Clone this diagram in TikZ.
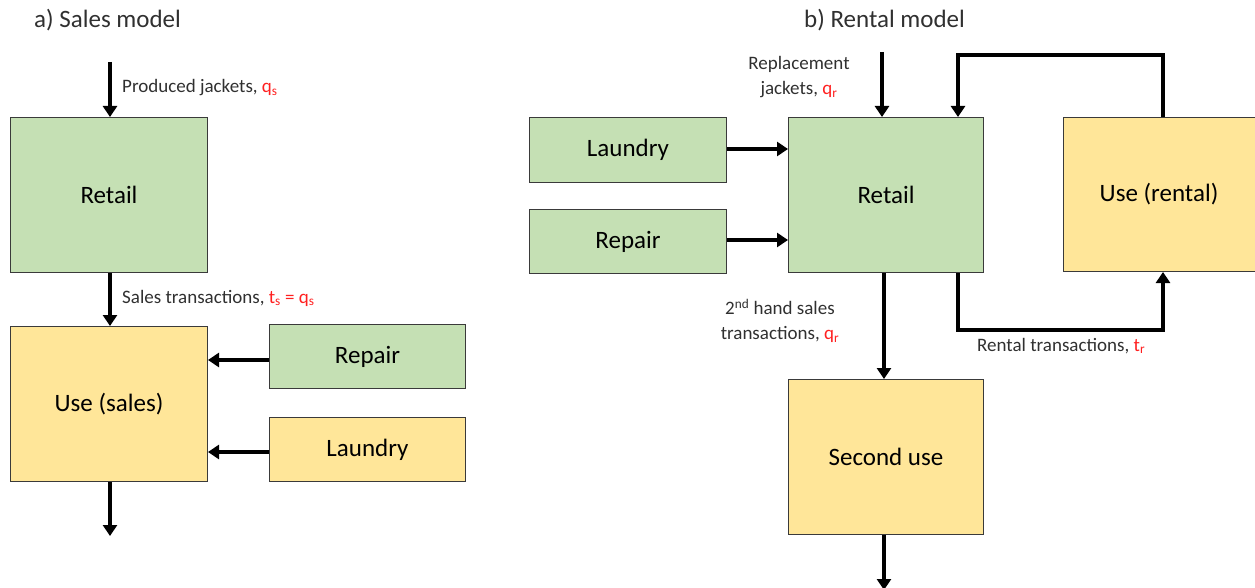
\documentclass[tikz,border=0pt]{standalone}
\usepackage{fontspec}
\setmainfont{Carlito}
\usetikzlibrary{arrows.meta}
\definecolor{boxgreen}{HTML}{C5E0B4}
\definecolor{boxyellow}{HTML}{FFE699}
\definecolor{boxline}{HTML}{3A3A3A}
\definecolor{qred}{HTML}{FF2020}
\definecolor{txt}{HTML}{303030}
\tikzset{
  box/.style={draw=boxline, line width=1pt, anchor=north west, inner sep=0pt,
    font=\fontsize{25}{29}\selectfont, text=black},
  gbox/.style={box, fill=boxgreen},
  ybox/.style={box, fill=boxyellow},
  flow/.style={line width=3.5pt, -{Triangle[length=11pt,width=14pt]}},
  lbl/.style={font=\fontsize{19}{25}\selectfont, text=txt, inner sep=0pt},
  ttl/.style={font=\fontsize{25}{29}\selectfont, text=txt, inner sep=0pt, anchor=west},
}
\newcommand{\rv}[1]{\textcolor{qred}{#1}}
\begin{document}
\begin{tikzpicture}[x=1pt,y=-1pt]
\useasboundingbox (0,0) rectangle (1255,588);

% ---- a) Sales model ----
\node[ttl] (ta) at (34,20) {a) Sales model};
\node[gbox, minimum width=197pt, minimum height=155pt] (retA) at (10,117) {Retail};
\node[ybox, minimum width=197pt, minimum height=155pt] (useA) at (10,326) {Use (sales)};
\node[gbox, minimum width=196pt, minimum height=64pt] (repA) at (269,324) {Repair};
\node[ybox, minimum width=196pt, minimum height=64pt] (lauA) at (269,417) {Laundry};
\coordinate (inA) at (110,62);
\coordinate (outA) at (110,536);
\draw[flow] (inA) -- (inA |- retA.north);
\draw[flow] (retA.south -| inA) -- (useA.north -| inA);
\draw[flow] (useA.south -| outA) -- (outA);
\draw[flow] (repA.west |- 0,360) -- (useA.east |- 0,360);
\draw[flow] (lauA.west |- 0,452) -- (useA.east |- 0,452);
\node[lbl, anchor=west] (lpa) at (122,88) {Produced jackets, \rv{q\textsubscript{s}}};
\node[lbl, anchor=west] (lsa) at (122,298) {Sales transactions, \rv{t\textsubscript{s} = q\textsubscript{s}}};

% ---- b) Rental model ----
\node[ttl] (tb) at (804,20) {b) Rental model};
\node[gbox, minimum width=197pt, minimum height=65pt] (lauB) at (529,117) {Laundry};
\node[gbox, minimum width=197pt, minimum height=64pt] (repB) at (529,209) {Repair};
\node[gbox, minimum width=195pt, minimum height=155pt] (retB) at (788,117) {Retail};
\node[ybox, minimum width=200pt, minimum height=154pt] (useB) at (1063,117) {\hspace*{-9pt}Use (rental)};
\node[ybox, minimum width=195pt, minimum height=155pt] (secB) at (788,379) {Second use};
\coordinate (inB) at (882,52);
\coordinate (outB) at (884,590);
\draw[flow] (inB) -- (inB |- retB.north);
\draw[flow] (lauB.east |- 0,149) -- (retB.west |- 0,149);
\draw[flow] (repB.east |- 0,240) -- (retB.west |- 0,240);
\draw[flow] (retB.south -| outB) -- (secB.north -| outB);
\draw[flow] (secB.south -| outB) -- (outB);
% rental loop: retail -> use (rental) -> back to retail
\coordinate (rl) at (958,330);
\coordinate (rr) at (1163,330);
\coordinate (tl) at (958,55);
\coordinate (tr) at (1163,55);
\draw[flow] (retB.south -| rl) -- (rl) -- (rr) -- (useB.south -| rr);
\draw[flow] (useB.north -| tr) -- (tr) -- (tl) -- (retB.north -| tl);
\node[lbl, align=center] (lrb) at (799,77) {Replacement\\jackets, \rv{q\textsubscript{r}}};
\node[lbl, align=center] (lsb) at (780,321) {2\textsuperscript{nd} hand sales\\transactions, \rv{q\textsubscript{r}}};
\node[lbl, anchor=west] (ltb) at (977,346) {Rental transactions, \rv{t\textsubscript{r}}};
\end{tikzpicture}
\end{document}
